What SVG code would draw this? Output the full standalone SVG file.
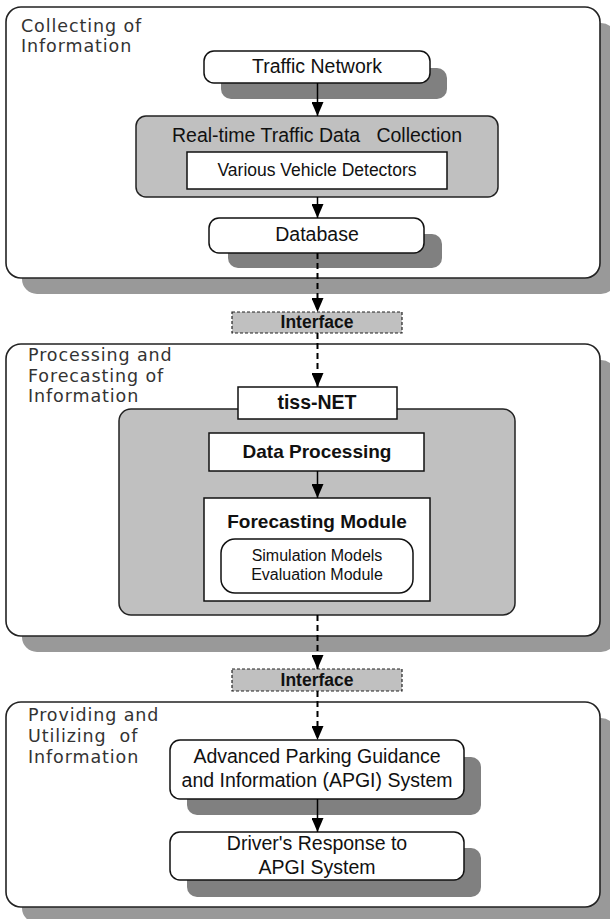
<svg xmlns="http://www.w3.org/2000/svg" width="610" height="919" viewBox="0 0 610 919">
<defs>
<marker id="ah" markerUnits="userSpaceOnUse" markerWidth="14" markerHeight="12" viewBox="0 0 14 12" refX="14" refY="6" orient="auto">
<path d="M0,0 L14,6 L0,12 z" fill="#000"/>
</marker>
</defs>
<style>
.sec{fill:#fff;stroke:#222;stroke-width:1.6}
.secsh{fill:#999}
.nsh{fill:#808080}
.node{fill:#fff;stroke:#111;stroke-width:1.5}
.grey{fill:#c0c0c0;stroke:#222;stroke-width:1.5}
.iface{fill:#c0c0c0;stroke:#222;stroke-width:1.2;stroke-dasharray:3 2}
.lbl{font-family:"DejaVu Sans",sans-serif;font-size:17.5px;letter-spacing:0.9px;fill:#333;white-space:pre}
.t{font-family:"Liberation Sans",Arial,sans-serif;fill:#111;text-anchor:middle;white-space:pre}
.b{font-weight:bold}
.ln{stroke:#000;stroke-width:1.5;fill:none}
.dl{stroke:#000;stroke-width:2;stroke-dasharray:6 4;fill:none}
</style>

<!-- Section 1 -->
<g id="sec1">
<rect class="secsh" x="22" y="23" width="594" height="271" rx="15"/>
<rect class="sec" x="6" y="7" width="594" height="271" rx="15"/>
<text class="lbl" x="21" y="32">Collecting of</text>
<text class="lbl" x="21" y="52">Information</text>
</g>

<!-- Section 2 -->
<g id="sec2">
<rect class="secsh" x="22" y="360" width="594" height="292" rx="15"/>
<rect class="sec" x="6" y="344" width="594" height="292" rx="15"/>
<text class="lbl" x="28" y="361">Processing and</text>
<text class="lbl" x="28" y="382">Forecasting of</text>
<text class="lbl" x="28" y="402">Information</text>
</g>

<!-- Section 3 -->
<g id="sec3">
<rect class="secsh" x="22" y="718" width="594" height="205" rx="15"/>
<rect class="sec" x="6" y="702" width="594" height="205" rx="15"/>
<text class="lbl" x="28" y="721">Providing and</text>
<text class="lbl" x="28" y="742">Utilizing  of</text>
<text class="lbl" x="28" y="763">Information</text>
</g>

<g id="traffic-network">
<rect class="nsh" x="221" y="68" width="226" height="31" rx="10"/>
<rect class="node" x="204" y="51" width="226" height="32" rx="10"/>
<text class="t" x="317" y="73" font-size="19.5">Traffic Network</text>
</g>

<g id="realtime-collection">
<rect class="grey" x="136" y="116" width="362" height="81" rx="10"/>
<text class="t" x="317" y="142" font-size="19.5">Real-time Traffic Data   Collection</text>
</g>

<g id="vehicle-detectors">
<rect class="node" x="187" y="152" width="260" height="37"/>
<text class="t" x="317" y="176" font-size="17.5">Various Vehicle Detectors</text>
</g>

<g id="database">
<rect class="nsh" x="228" y="234" width="214" height="34" rx="10"/>
<rect class="node" x="209" y="218" width="215" height="35" rx="10"/>
<text class="t" x="317" y="241" font-size="19.5">Database</text>
</g>

<g id="interface1">
<rect class="iface" x="232" y="312" width="170" height="21"/>
<text class="t b" x="317" y="327.5" font-size="17.5">Interface</text>
</g>

<g id="tissnet-area">
<rect class="grey" x="119" y="409" width="396" height="206" rx="12"/>
</g>

<g id="tiss-net">
<rect class="node" x="238" y="387" width="159" height="32"/>
<text class="t b" x="317" y="409" font-size="19.5">tiss-NET</text>
</g>

<g id="data-processing">
<rect class="node" x="209" y="433" width="215" height="38"/>
<text class="t b" x="317" y="458" font-size="19">Data Processing</text>
</g>

<g id="forecasting-module">
<rect class="node" x="204" y="498" width="226" height="103"/>
<text class="t b" x="317" y="528" font-size="19">Forecasting Module</text>
</g>

<g id="simulation-evaluation">
<rect class="node" x="221" y="539" width="192" height="54" rx="14"/>
<text class="t" x="317" y="561" font-size="16">Simulation Models</text>
<text class="t" x="317" y="580" font-size="16">Evaluation Module</text>
</g>

<g id="interface2">
<rect class="iface" x="232" y="669" width="170" height="22"/>
<text class="t b" x="317" y="685.5" font-size="17.5">Interface</text>
</g>

<g id="apgi">
<rect class="nsh" x="187" y="757" width="294" height="58" rx="10"/>
<rect class="node" x="170" y="740" width="294" height="59" rx="10"/>
<text class="t" x="317" y="763" font-size="19.5">Advanced Parking Guidance</text>
<text class="t" x="317" y="787" font-size="19.5">and Information (APGI) System</text>
</g>

<g id="driver-response">
<rect class="nsh" x="187" y="848" width="294" height="49" rx="10"/>
<rect class="node" x="170" y="832" width="294" height="48" rx="10"/>
<text class="t" x="317" y="850" font-size="19.5">Driver's Response to</text>
<text class="t" x="317" y="874" font-size="19.5">APGI System</text>
</g>

<g id="connectors">
<line class="ln" x1="317.5" y1="83" x2="317.5" y2="116" marker-end="url(#ah)"/>
<line class="ln" x1="317.5" y1="197" x2="317.5" y2="218" marker-end="url(#ah)"/>
<line class="dl" x1="317.5" y1="253" x2="317.5" y2="312" marker-end="url(#ah)"/>
<line class="dl" x1="317.5" y1="333" x2="317.5" y2="387" marker-end="url(#ah)"/>
<line class="ln" x1="317.5" y1="471" x2="317.5" y2="498" marker-end="url(#ah)"/>
<line class="dl" x1="317.5" y1="615" x2="317.5" y2="669" marker-end="url(#ah)"/>
<line class="dl" x1="317.5" y1="691" x2="317.5" y2="740" marker-end="url(#ah)"/>
<line class="ln" x1="317.5" y1="799" x2="317.5" y2="832" marker-end="url(#ah)"/>
</g>
</svg>
